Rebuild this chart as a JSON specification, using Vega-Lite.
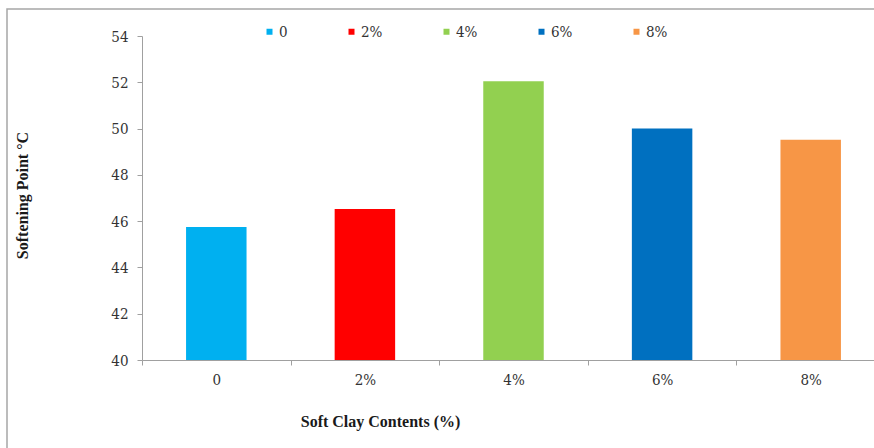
{
  "$schema": "https://vega.github.io/schema/vega-lite/v6.json",
  "width": 870,
  "height": 445,
  "autosize": "none",
  "padding": {"left": 7, "top": 9, "right": 0, "bottom": 0},
  "background": "white",
  "config": {
    "font": "Liberation Serif",
    "view": {"stroke": "#a6a6a6", "strokeWidth": 1.5},
    "axis": {
      "domainColor": "#a0a0a0",
      "tickColor": "#a0a0a0",
      "domainWidth": 1,
      "tickWidth": 1,
      "tickSize": 5,
      "grid": false,
      "labelFont": "DejaVu Serif Condensed",
      "labelFontSize": 15,
      "labelColor": "#333333",
      "titleFont": "Liberation Serif",
      "titleFontSize": 16,
      "titleFontWeight": "bold",
      "titleColor": "#1a1a1a"
    }
  },
  "data": {
    "values": [
      {"clay": "0", "softening": 45.75},
      {"clay": "2%", "softening": 46.53},
      {"clay": "4%", "softening": 52.05},
      {"clay": "6%", "softening": 50.0},
      {"clay": "8%", "softening": 49.52}
    ]
  },
  "mark": {"type": "bar", "width": {"band": 0.407}},
  "encoding": {
    "x": {
      "field": "clay",
      "type": "nominal",
      "sort": ["0", "2%", "4%", "6%", "8%"],
      "scale": {"range": [135, 878], "paddingInner": 0, "paddingOuter": 0},
      "axis": {
        "title": "Soft Clay Contents (%)",
        "labelAngle": 0,
        "labelPadding": 7,
        "tickBand": "extent",
        "offset": -94,
        "titleX": 373,
        "titleY": 61,
        "titleBaseline": "middle",
        "titleAlign": "center"
      }
    },
    "y": {
      "field": "softening",
      "type": "quantitative",
      "scale": {"domain": [40, 54], "range": [351, 27], "nice": false, "zero": false},
      "axis": {
        "title": "Softening Point °C",
        "values": [40, 42, 44, 46, 48, 50, 52, 54],
        "labelPadding": 9,
        "offset": -135,
        "titleX": -120,
        "titleY": 186,
        "titleAngle": -90,
        "titleBaseline": "middle",
        "titleAlign": "center"
      }
    },
    "y2": {"datum": 40},
    "color": {
      "field": "clay",
      "type": "nominal",
      "sort": ["0", "2%", "4%", "6%", "8%"],
      "scale": {
        "domain": ["0", "2%", "4%", "6%", "8%"],
        "range": ["#00b0f0", "#ff0000", "#92d050", "#0070c0", "#f79646"]
      },
      "legend": {
        "title": null,
        "orient": "none",
        "direction": "horizontal",
        "legendX": 255,
        "legendY": 15,
        "padding": 0,
        "symbolType": "square",
        "symbolSize": 36,
        "symbolStrokeWidth": 0,
        "symbolOpacity": 1,
        "labelFont": "DejaVu Serif Condensed",
        "labelFontSize": 15,
        "labelColor": "#333333",
        "labelOffset": 2,
        "columnPadding": 56
      }
    }
  }
}
